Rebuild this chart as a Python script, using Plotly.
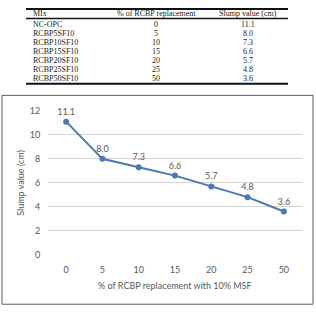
import plotly.graph_objects as go

# ---- data ----
mix_names = ["NC-OPC", "RCBP5SF10", "RCBP10SF10", "RCBP15SF10", "RCBP20SF10", "RCBP25SF10", "RCBP50SF10"]
replacement = ["0", "5", "10", "15", "20", "25", "50"]
slump = [11.1, 8.0, 7.3, 6.6, 5.7, 4.8, 3.6]
table_headers = ["MIx", "% of RCBP replacement", "Slump value (cm)"]
y_title = "Slump value (cm)"
x_title = "% of RCBP replacement with 10% MSF"

W = H = 316
def px(x):
    return x / W
def py(y):
    return 1 - y / H

GRAY = "#595959"
CHART_FONT = "Lato"
SERIF = "Liberation Serif"

fig = go.Figure()
fig.add_trace(go.Scatter(
    x=replacement, y=slump,
    mode="lines+markers+text",
    line=dict(color="#4a78b8", width=2),
    marker=dict(color="#4a78b8", size=6),
    text=[f"{v:.1f}" for v in slump],
    textposition="top center",
    textfont=dict(family=CHART_FONT, size=9, color=GRAY),
    cliponaxis=False,
    hoverinfo="skip",
))

annotations = []
# table header
col_x = [31, 156, 248]
anchors = ["left", "center", "center"]
for h, cx, a in zip(table_headers, col_x, anchors):
    annotations.append(dict(text=h, x=px(cx), y=py(9), xref="paper", yref="paper",
                            xanchor=a, yanchor="middle", showarrow=False,
                            font=dict(family=SERIF, size=8, color="#222")))
row_y0, row_dy = 20.5, 9.25
for i, (m, r, s) in enumerate(zip(mix_names, replacement, slump)):
    yy = row_y0 + i * row_dy
    for t, cx, a in zip([m, r, f"{s:.1f}"], col_x, anchors):
        annotations.append(dict(text=t, x=px(cx), y=py(yy), xref="paper", yref="paper",
                                xanchor=a, yanchor="middle", showarrow=False,
                                font=dict(family=SERIF, size=8, color="#222")))

# axis titles
annotations.append(dict(text=y_title, x=px(21), y=py(183), xref="paper", yref="paper",
                        textangle=-90, showarrow=False, xanchor="center", yanchor="middle",
                        font=dict(family=CHART_FONT, size=9, color=GRAY)))
annotations.append(dict(text=x_title, x=px(175), y=py(289), xref="paper", yref="paper",
                        showarrow=False, xanchor="center", yanchor="middle",
                        font=dict(family=CHART_FONT, size=9, color=GRAY)))

shapes = [
    dict(type="line", xref="paper", yref="paper", x0=px(26), x1=px(288), y0=py(4), y1=py(4),
         line=dict(color="#111", width=2)),
    dict(type="line", xref="paper", yref="paper", x0=px(26), x1=px(288), y0=py(14), y1=py(14),
         line=dict(color="#111", width=1.5)),
    dict(type="line", xref="paper", yref="paper", x0=px(26), x1=px(288), y0=py(81), y1=py(81),
         line=dict(color="#111", width=2)),
    dict(type="rect", xref="paper", yref="paper", x0=px(2), x1=px(313), y0=py(308), y1=py(93),
         line=dict(color=GRAY, width=1)),
]

fig.update_layout(
    width=W, height=H,
    margin=dict(l=0, r=0, t=0, b=0),
    paper_bgcolor="white", plot_bgcolor="white",
    showlegend=False,
    annotations=annotations,
    shapes=shapes,
    xaxis=dict(type="category", domain=[px(48), px(302)], range=[-0.5, 6.5],
               showgrid=False, zeroline=False, showline=False,
               ticks="outside", ticklen=6, tickcolor="rgba(0,0,0,0)",
               tickfont=dict(family=CHART_FONT, size=9, color=GRAY), fixedrange=True),
    yaxis=dict(domain=[py(258), py(108)], range=[-0.08, 12.08], dtick=2,
               showgrid=True, gridcolor="#d4d4d4", gridwidth=1,
               zeroline=False, showline=False,
               ticks="outside", ticklen=5, tickcolor="rgba(0,0,0,0)",
               tickfont=dict(family=CHART_FONT, size=9, color=GRAY), fixedrange=True),
)

fig.write_html("out.html")
